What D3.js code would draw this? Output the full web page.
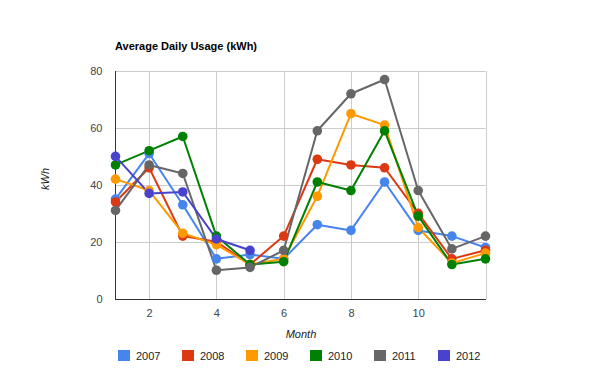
<!DOCTYPE html>
<html><head><meta charset="utf-8">
<script src="https://cdn.jsdelivr.net/npm/d3@7"></script>
<style>body{margin:0;background:#fff}svg{display:block}text{font-family:Arial,"Liberation Sans",sans-serif}</style>
</head><body>
<svg id="c" width="600" height="371"></svg>
<script>
const months = [1,2,3,4,5,6,7,8,9,10,11,12];
const years = ["2007","2008","2009","2010","2011","2012"];
const colors = ["#4684ee","#dc3912","#ff9900","#008000","#666666","#4942cc"];
const s2007 = [35,51,33,14,15.5,14,26,24,41,24,22,18];
const s2008 = [34,46,22,20,12,22,49,47,46,30,14,17];
const s2009 = [42,38,23,19,12,14,36,65,61,25,12.5,16];
const s2010 = [47,52,57,22,12,13,41,38,59,29,12,14];
const s2011 = [31,47,44,10,11,17,59,72,77,38,17.5,22];
const s2012 = [50,37,37.5,21,17];
const yTicks = [0,20,40,60,80];
const xTicks = [2,4,6,8,10];
const allSeries = [s2007,s2008,s2009,s2010,s2011,s2012];

const svg = d3.select("#c");
const x = d3.scaleLinear().domain([1,12]).range([115.5,485.5]);
const y = d3.scaleLinear().domain([0,80]).range([298.7,71]);

// grid
svg.append("g").selectAll("line").data(yTicks.filter(d=>d>0)).join("line")
  .attr("x1",115.5).attr("x2",485.5).attr("y1",d=>Math.round(y(d))+0.5).attr("y2",d=>Math.round(y(d))+0.5)
  .attr("stroke","#cccccc");
svg.append("g").selectAll("line").data([2,4,6,8,10,12]).join("line")
  .attr("x1",d=>Math.round(x(d))+0.5).attr("x2",d=>Math.round(x(d))+0.5).attr("y1",71).attr("y2",299)
  .attr("stroke","#cccccc");

// axes
const yAxis = d3.axisLeft(y).tickValues(yTicks).tickSize(0).tickPadding(13);
const gy = svg.append("g").attr("transform","translate(115.5,0)").call(yAxis);
gy.select(".domain").attr("stroke","#333").attr("d","M0,71V299");
gy.selectAll("text").attr("font-size",11).attr("fill","#444").attr("font-family","Arial,'Liberation Sans',sans-serif");
const xAxis = d3.axisBottom(x).tickValues(xTicks).tickSize(0).tickPadding(10);
const gx = svg.append("g").attr("transform","translate(0,299.5)").call(xAxis);
gx.select(".domain").attr("stroke","#333").attr("d","M115,0H486");
gx.selectAll("text").attr("font-size",11).attr("fill","#444").attr("font-family","Arial,'Liberation Sans',sans-serif");

// lines
const line = d3.line().x((d,i)=>x(months[i])).y(d=>y(d));
allSeries.forEach((s,k)=>{
  svg.append("path").datum(s).attr("d",line).attr("fill","none")
    .attr("stroke",colors[k]).attr("stroke-width",2).attr("stroke-linejoin","round");
});
allSeries.forEach((s,k)=>{
  svg.append("g").selectAll("circle").data(s).join("circle")
    .attr("cx",(d,i)=>x(months[i])).attr("cy",d=>y(d)).attr("r",4.8).attr("fill",colors[k]);
});

// title
svg.append("text").attr("x",115).attr("y",50).attr("font-size",11).attr("font-weight","bold").attr("fill","#000")
  .text("Average Daily Usage (kWh)");
// axis titles
svg.append("text").attr("transform","translate(49,179) rotate(-90)").attr("text-anchor","middle")
  .attr("font-size",11).attr("font-style","italic").attr("fill","#222").text("kWh");
svg.append("text").attr("x",301).attr("y",338).attr("text-anchor","middle")
  .attr("font-size",11).attr("font-style","italic").attr("fill","#222").text("Month");

// legend
const lg = svg.append("g").selectAll("g").data(years).join("g")
  .attr("transform",(d,i)=>`translate(${118+i*64},350)`);
lg.append("rect").attr("width",12).attr("height",11).attr("fill",(d,i)=>colors[i]);
lg.append("text").attr("x",18).attr("y",10).attr("font-size",11).attr("fill","#222").text(d=>d);
</script>
</body></html>
